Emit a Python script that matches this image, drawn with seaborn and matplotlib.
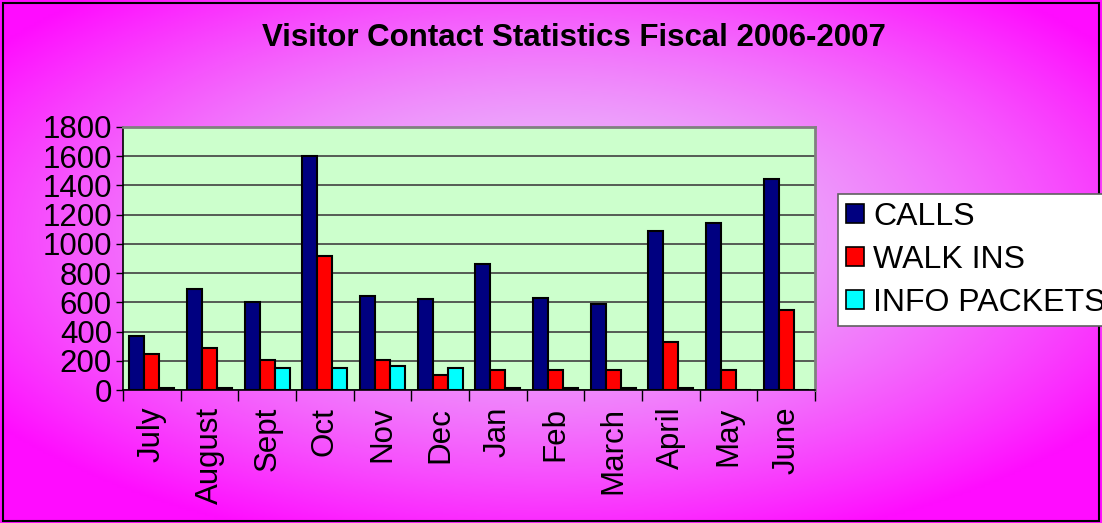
import numpy as np
import pandas as pd
import matplotlib.pyplot as plt
import seaborn as sns
from matplotlib.patches import Rectangle, Patch

# Values
months = ['July', 'August', 'Sept', 'Oct', 'Nov', 'Dec', 'Jan', 'Feb', 'March', 'April', 'May', 'June']
calls = [370, 690, 605, 1600, 645, 620, 865, 630, 590, 1085, 1140, 1445]
walk_ins = [245, 290, 205, 920, 205, 105, 135, 135, 135, 330, 135, 550]
info_packets = [12, 12, 150, 150, 165, 150, 12, 12, 12, 12, 0, 0]
series = ['CALLS', 'WALK INS', 'INFO PACKETS']
colors = ['#000080', '#FF0000', '#00FFFF']

df = pd.DataFrame({
    'Month': months * 3,
    'Count': calls + walk_ins + info_packets,
    'Type': np.repeat(series, len(months)),
})

sns.set_style('white')
plt.rcParams['font.family'] = ['Liberation Sans', 'DejaVu Sans']
plt.rcParams['text.color'] = 'black'
plt.rcParams['xtick.color'] = 'black'
plt.rcParams['ytick.color'] = 'black'

fig = plt.figure(figsize=(11.02, 5.23), dpi=100)

# magenta radial gradient background
bg = fig.add_axes([0, 0, 1, 1], zorder=-10)
gx, gy = np.meshgrid(np.linspace(0, 1, 400), np.linspace(0, 1, 200))
r = np.sqrt(((gx - 0.5) / 0.62) ** 2 + ((gy - 0.45) / 0.62) ** 2)
t = np.clip(r, 0, 1) ** 1.5
inner = np.array([0.91, 0.78, 0.98])
outer = np.array([1.0, 0.05, 1.0])
img = inner[None, None, :] * (1 - t[..., None]) + outer[None, None, :] * t[..., None]
bg.imshow(img, aspect='auto', extent=[0, 1, 0, 1], origin='upper')
bg.axis('off')
bg.add_patch(Rectangle((0.003, 0.004), 0.994, 0.99, transform=bg.transAxes,
                       fill=False, edgecolor='black', linewidth=1.5))

ax = fig.add_axes([123 / 1102, 1 - 390 / 523, (815 - 123) / 1102, (390 - 127) / 523])
ax.set_facecolor('#CCFFCC')
sns.barplot(data=df, x='Month', y='Count', hue='Type', palette=dict(zip(series, colors)),
            saturation=1, width=0.78, edgecolor='black', linewidth=1.5, ax=ax,
            legend=False, zorder=3)

ax.set_ylim(0, 1800)
ax.set_yticks(range(0, 1801, 200))
ax.set_xlim(-0.5, 11.5)
ax.yaxis.grid(True, color='#404040', linewidth=1.2, zorder=0)
ax.set_axisbelow(True)
ax.set_xlabel('')
ax.set_ylabel('')
for s in ['left', 'bottom']:
    ax.spines[s].set_color('black')
    ax.spines[s].set_linewidth(1.2)
for s in ['top', 'right']:
    ax.spines[s].set_color('#808080')
    ax.spines[s].set_linewidth(2)

ax.set_xticks(np.arange(-0.5, 12, 1), minor=True)
ax.tick_params(axis='x', which='major', length=0, pad=12, labelsize=22.5, labelrotation=90)
ax.tick_params(axis='x', which='minor', length=8, width=1, direction='out', bottom=True)
ax.tick_params(axis='y', length=5, width=1, direction='out', left=True, labelsize=22.5, pad=3)
for lab in ax.get_xticklabels():
    lab.set_va('top')
    lab.set_ha('center')

fig.text(0.521, 0.927, 'Visitor Contact Statistics Fiscal 2006-2007',
         ha='center', va='center', fontsize=22.5, fontweight='bold')

handles = [Patch(facecolor=c, edgecolor='black', linewidth=1.2) for c in colors]
leg = fig.legend(handles, series, loc='upper left', bbox_to_anchor=(838 / 1102, 1 - 194 / 523),
                 fontsize=23, frameon=True, fancybox=False, framealpha=1, handlelength=0.55,
                 handleheight=0.55, handletextpad=0.3, labelspacing=0.4, borderpad=0.25,
                 borderaxespad=0)
leg.get_frame().set_facecolor('white')
leg.get_frame().set_edgecolor('#606060')
leg.get_frame().set_linewidth(1.2)

plt.savefig('out.png', dpi=100)
